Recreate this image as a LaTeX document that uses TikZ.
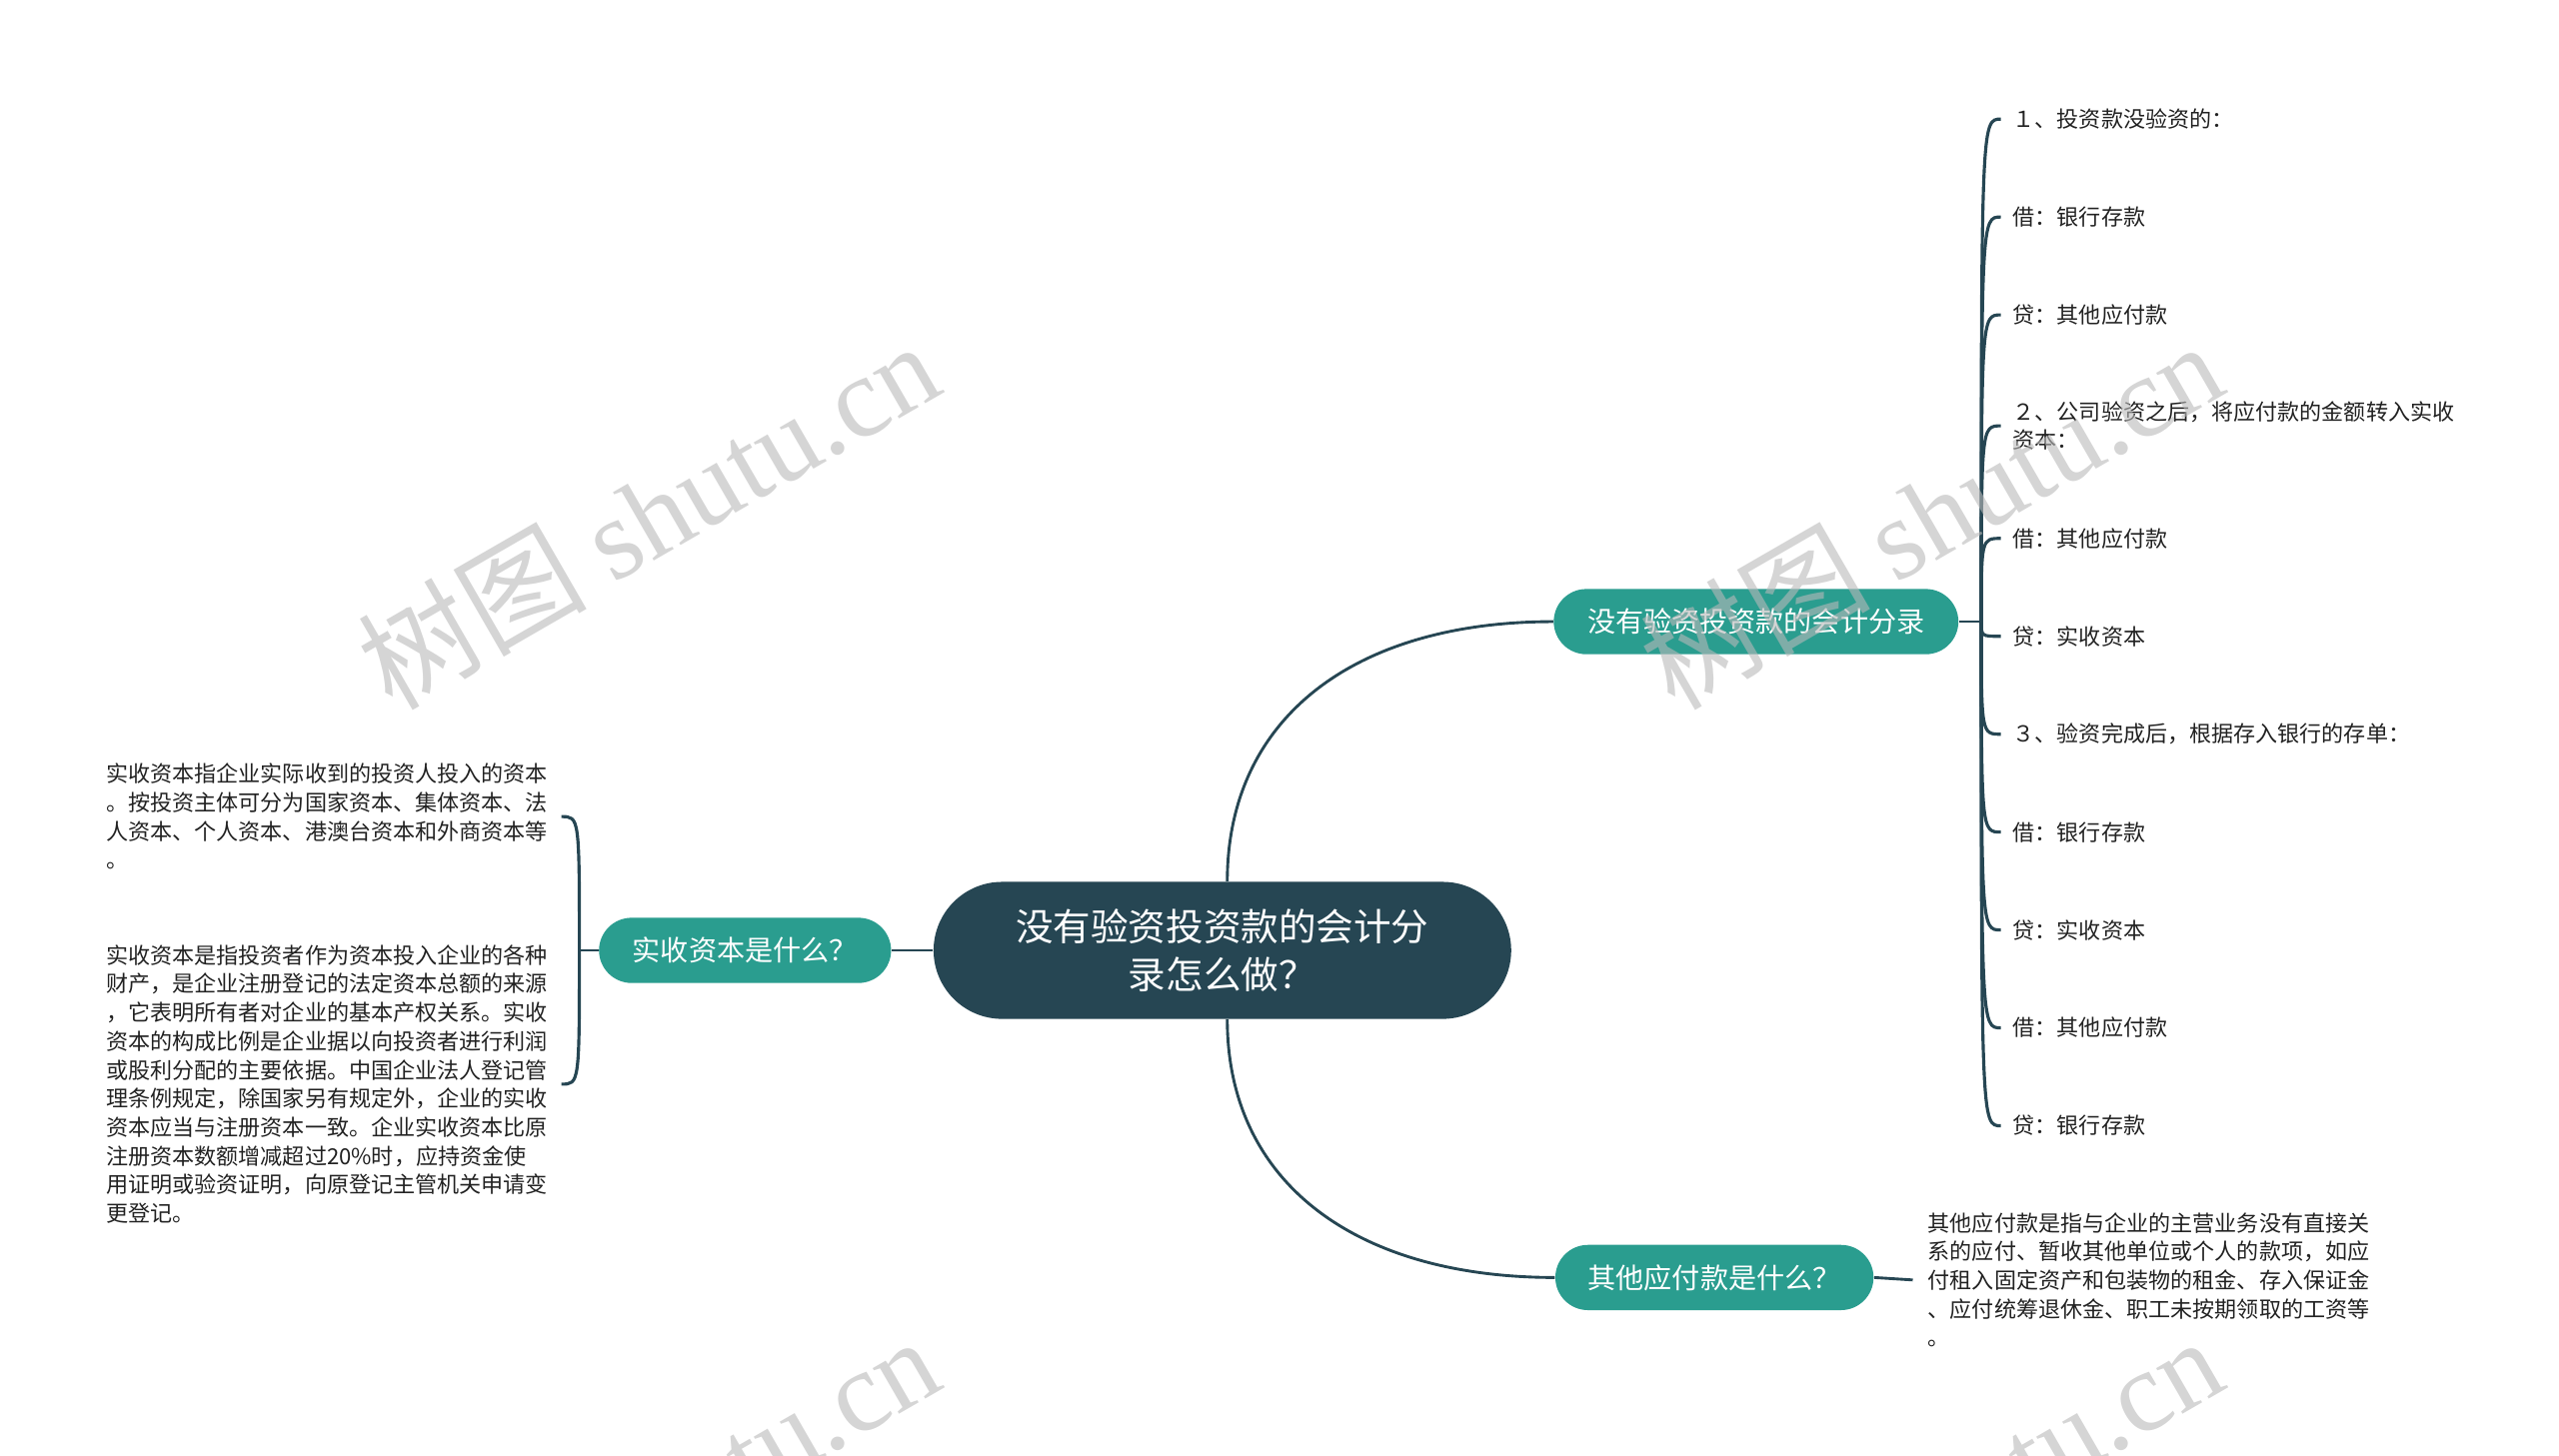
\documentclass[tikz,border=0pt]{standalone}
\usepackage{fontspec}
\setmainfont{Noto Sans CJK SC}
\newfontfamily\wmlatin{Liberation Serif}
\usetikzlibrary{shapes.misc,positioning}
\definecolor{mmNavy}{HTML}{264653}
\definecolor{mmTeal}{HTML}{2A9D8F}
\definecolor{mmText}{HTML}{222222}
\definecolor{mmMark}{HTML}{B9B9B9}

\begin{document}
\begin{tikzpicture}[x=0.02cm, y=-0.02cm,
  root/.style={rounded rectangle, fill=mmNavy, text=white, align=center, inner sep=0pt,
               font=\fontsize{13.1}{17}\selectfont, minimum width=7.08cm, minimum height=1.68cm},
  topic/.style={rounded rectangle, fill=mmTeal, text=white, inner sep=0pt,
                font=\fontsize{9.8}{12}\selectfont, minimum height=0.8cm},
  leaf/.style={anchor=west, text=mmText, align=left, inner xsep=0.14cm, inner ysep=1pt,
               font=\fontsize{7.7}{9.7}\selectfont},
  para/.style={text=mmText, align=left, inner ysep=0pt, font=\fontsize{7.7}{10}\selectfont},
  link/.style={draw=mmNavy, line width=1pt},
  twig/.style={draw=mmNavy, line width=1.1pt},
  wmark/.style={text=mmMark, opacity=0.6, rotate=30, inner sep=0pt, font=\fontsize{40}{40}\selectfont},
  ]
\useasboundingbox (0,0) rectangle (1568,892);
% ---- centre and the three topics
\node[root] (root) at (749,582.5) {没有验资投资款的会计分\\录怎么做？};
\node[topic, minimum width=4.96cm] (sub1) at (1076,381) {没有验资投资款的会计分录};
\node[topic, minimum width=3.90cm] (sub2) at (1050.5,783) {其他应付款是什么？};
\node[topic, minimum width=3.58cm] (subL) at (456.5,582.5) {实收资本是什么？};
\draw[link] ([xshift=0.06cm]root.north) .. controls +(0,-100) and +(-122,0) .. (sub1.west);
\draw[link] ([xshift=0.06cm]root.south) .. controls +(0,100) and +(-122,0) .. (sub2.west);
\draw[link] (root.west) -- (subL.east);
% ---- the entries
\coordinate (hubR) at (1214,381);
\node[leaf] (l1)  at (1226,73)  {１、投资款没验资的：};
\node[leaf] (l2)  at (1226,133) {借：银行存款};
\node[leaf] (l3)  at (1226,193) {贷：其他应付款};
\node[leaf] (l4)  at (1226,261) {２、公司验资之后，将应付款的金额转入实收\\资本：};
\node[leaf] (l5)  at (1226,330) {借：其他应付款};
\node[leaf] (l6)  at (1226,390) {贷：实收资本};
\node[leaf] (l7)  at (1226,450) {３、验资完成后，根据存入银行的存单：};
\node[leaf] (l8)  at (1226,510) {借：银行存款};
\node[leaf] (l9)  at (1226,570) {贷：实收资本};
\node[leaf] (l10) at (1226,630) {借：其他应付款};
\node[leaf] (l11) at (1226,690) {贷：银行存款};
\draw[link] (sub1.east) -- (hubR);
\foreach \i in {1,...,11}
  \draw[twig] (hubR) .. controls (hubR |- l\i.west) .. (l\i.west);
% ---- paid-in capital
\coordinate (hubL) at (355,582.5);
\node[para, anchor=east, inner xsep=0.16cm] (pA) at (344,500.5)
  {实收资本指企业实际收到的投资人投入的资本\\。按投资主体可分为国家资本、集体资本、法\\人资本、个人资本、港澳台资本和外商资本等\\。};
\node[para, anchor=east, inner xsep=0.16cm] (pB) at (344,664.5)
  {实收资本是指投资者作为资本投入企业的各种\\财产，是企业注册登记的法定资本总额的来源\\，它表明所有者对企业的基本产权关系。实收\\资本的构成比例是企业据以向投资者进行利润\\或股利分配的主要依据。中国企业法人登记管\\理条例规定，除国家另有规定外，企业的实收\\资本应当与注册资本一致。企业实收资本比原\\注册资本数额增减超过20\%时，应持资金使\\用证明或验资证明，向原登记主管机关申请变\\更登记。};
\draw[link] (subL.west) -- (hubL);
\foreach \p in {pA,pB}
  \draw[twig] (hubL) .. controls (hubL |- \p.east) .. (\p.east);
% ---- other payables
\node[para, anchor=west, inner xsep=0.18cm] (pC) at (1172,784.5)
  {其他应付款是指与企业的主营业务没有直接关\\系的应付、暂收其他单位或个人的款项，如应\\付租入固定资产和包装物的租金、存入保证金\\、应付统筹退休金、职工未按期领取的工资等\\。};
\draw[link] (sub2.east) -- (pC.west);
% ---- watermark
\begin{scope}
  \clip (0,0) rectangle (1568,892);
  \node[wmark] (wm1) at (397,315)  {树图 {\wmlatin shutu.cn}};
  \node[wmark] (wm2) at (1183,315) {树图 {\wmlatin shutu.cn}};
  \node[wmark] (wm3) at (397,925)  {树图 {\wmlatin shutu.cn}};
  \node[wmark] (wm4) at (1183,925) {树图 {\wmlatin shutu.cn}};
\end{scope}
\end{tikzpicture}
\end{document}
